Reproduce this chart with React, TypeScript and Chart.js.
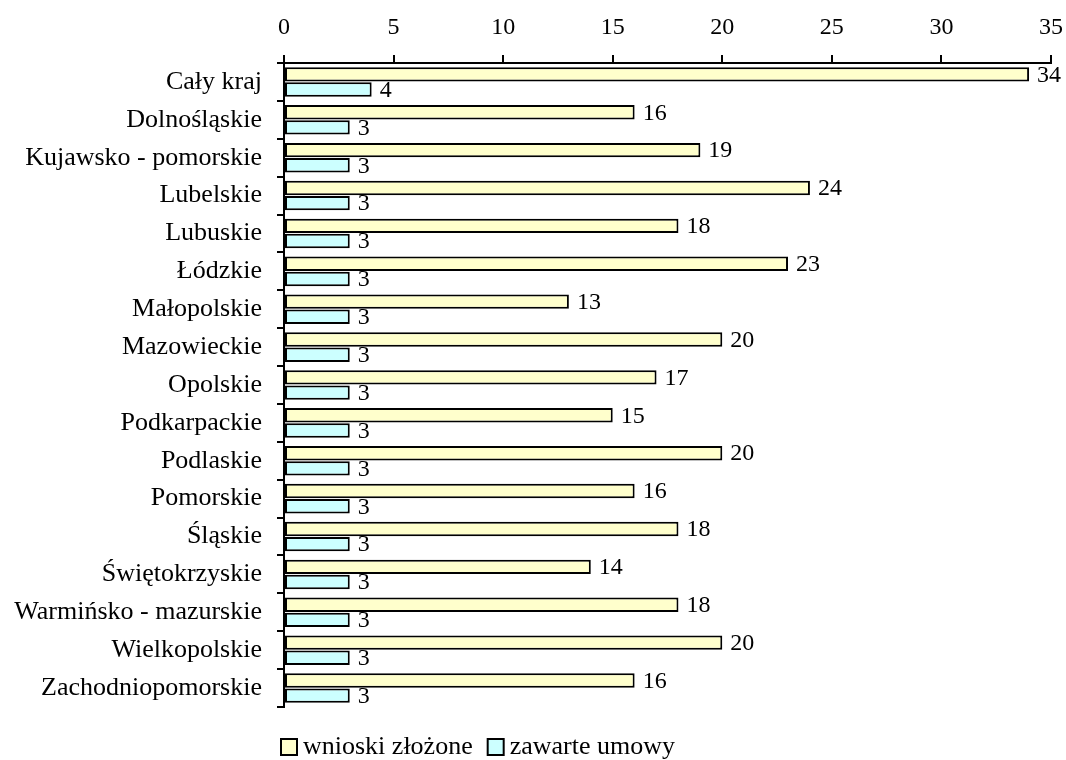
import React, { useEffect, useRef } from "react";
import { Chart, registerables } from "chart.js";

Chart.register(...registerables);

const categories = [
  "Cały kraj",
  "Dolnośląskie",
  "Kujawsko - pomorskie",
  "Lubelskie",
  "Lubuskie",
  "Łódzkie",
  "Małopolskie",
  "Mazowieckie",
  "Opolskie",
  "Podkarpackie",
  "Podlaskie",
  "Pomorskie",
  "Śląskie",
  "Świętokrzyskie",
  "Warmińsko - mazurskie",
  "Wielkopolskie",
  "Zachodniopomorskie",
];
const wnioski = [34, 16, 19, 24, 18, 23, 13, 20, 17, 15, 20, 16, 18, 14, 18, 20, 16];
const umowy = [4, 3, 3, 3, 3, 3, 3, 3, 3, 3, 3, 3, 3, 3, 3, 3, 3];
const seriesNames = ["wnioski złożone", "zawarte umowy"];
const xTicks = [0, 5, 10, 15, 20, 25, 30, 35];

const FONT = "'Liberation Serif', 'Times New Roman', serif";

const valueLabels = {
  id: "valueLabels",
  afterDatasetsDraw(chart: any) {
    const ctx = chart.ctx;
    ctx.save();
    ctx.font = `24px ${FONT}`;
    ctx.fillStyle = "#000";
    ctx.textBaseline = "middle";
    ctx.textAlign = "left";
    chart.data.datasets.forEach((ds: any, di: number) => {
      const meta = chart.getDatasetMeta(di);
      meta.data.forEach((el: any, i: number) => {
        ctx.fillText(String(ds.data[i]), el.x + 8, el.y + 1);
      });
    });
    ctx.restore();
  },
};

const customLegend = {
  id: "customLegend",
  afterDraw(chart: any) {
    const ctx = chart.ctx;
    ctx.save();
    ctx.font = `26px ${FONT}`;
    ctx.textBaseline = "middle";
    ctx.textAlign = "left";
    let x = 281;
    const y = 747;
    chart.data.datasets.forEach((ds: any) => {
      ctx.fillStyle = ds.backgroundColor;
      ctx.fillRect(x, y - 8, 16, 16);
      ctx.strokeStyle = "#000";
      ctx.lineWidth = 2;
      ctx.strokeRect(x, y - 8, 16, 16);
      ctx.fillStyle = "#000";
      ctx.fillText(ds.label, x + 22, y);
      x += 22 + ctx.measureText(ds.label).width + 15;
    });
    ctx.restore();
  },
};

export default function App() {
  const ref = useRef<HTMLCanvasElement>(null);
  useEffect(() => {
    if (!ref.current) return;
    const chart = new Chart(ref.current, {
      type: "bar",
      data: {
        labels: categories,
        datasets: [
          {
            label: seriesNames[0],
            data: wnioski,
            backgroundColor: "#FFFFCC",
            borderColor: "#000",
            borderWidth: 2,
            borderSkipped: false,
            categoryPercentage: 0.8,
            barPercentage: 0.95,
          },
          {
            label: seriesNames[1],
            data: umowy,
            backgroundColor: "#CCFFFF",
            borderColor: "#000",
            borderWidth: 2,
            borderSkipped: false,
            categoryPercentage: 0.8,
            barPercentage: 0.95,
          },
        ],
      },
      options: {
        indexAxis: "y",
        animation: false,
        responsive: false,
        layout: { padding: { left: 0, right: 15, top: 0, bottom: 53 } },
        plugins: { legend: { display: false }, tooltip: { enabled: false } },
        scales: {
          x: {
            position: "top",
            min: 0,
            max: 35,
            afterBuildTicks(scale: any) {
              scale.ticks = xTicks.map((v) => ({ value: v }));
            },
            afterFit(scale: any) {
              scale.height = 63;
              scale.paddingLeft = 0;
              scale.paddingRight = 0;
            },
            ticks: {
              color: "#000",
              font: { family: FONT, size: 24 },
              padding: 13,
              maxRotation: 0,
            },
            grid: {
              drawOnChartArea: false,
              drawTicks: true,
              tickLength: 8,
              color: "#000",
              lineWidth: 2,
            },
            border: { color: "#000", width: 2 },
          },
          y: {
            offset: true,
            afterFit(scale: any) {
              scale.width = 284;
              scale.paddingTop = 0;
              scale.paddingBottom = 0;
            },
            ticks: {
              color: "#000",
              font: { family: FONT, size: 26 },
              padding: 15,
            },
            grid: {
              offset: true,
              drawOnChartArea: false,
              drawTicks: true,
              tickLength: 7,
              color: "#000",
              lineWidth: 2,
            },
            border: { color: "#000", width: 2 },
          },
        },
      },
      plugins: [valueLabels, customLegend],
    } as any);
    return () => chart.destroy();
  }, []);
  return (
    <div style={{ position: "absolute", left: 0, top: 0, width: 1066, height: 760, background: "#fff" }}>
      <canvas ref={ref} width={1066} height={760} />
    </div>
  );
}
